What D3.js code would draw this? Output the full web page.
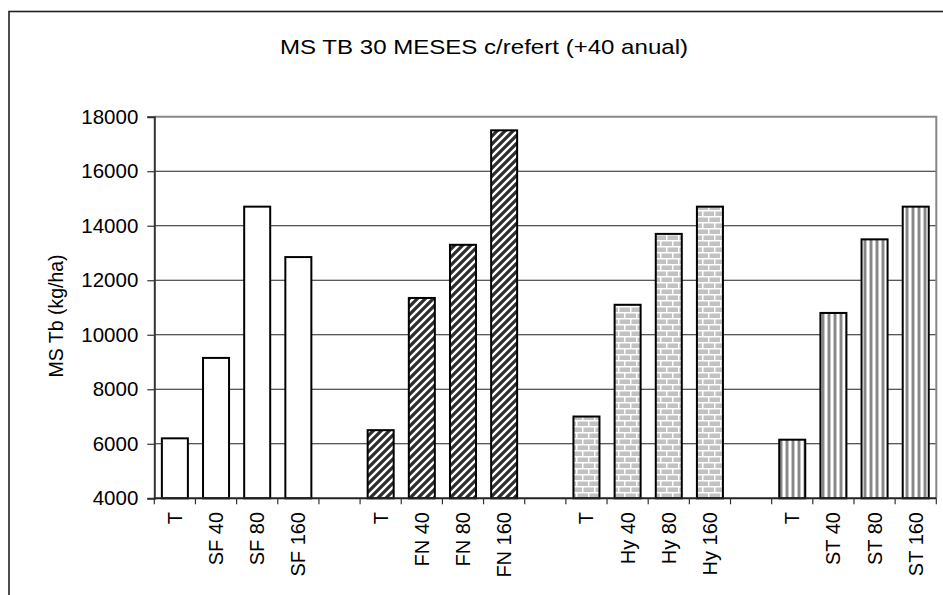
<!DOCTYPE html>
<html>
<head>
<meta charset="utf-8">
<script src="https://cdn.jsdelivr.net/npm/d3@7"></script>
<style>
  html, body { margin: 0; padding: 0; background: #fff; }
  svg { display: block; font-family: "Liberation Sans", Arial, sans-serif; }
</style>
</head>
<body>
<svg id="chart" width="943" height="595"></svg>
<script>
// Dry matter yield (kg/ha) per treatment group
const groups = ["SF", "FN", "Hy", "ST"];
const doses = ["T", "40", "80", "160"];
const sfValues = [6200, 9150, 14700, 12850];
const fnValues = [6500, 11350, 13300, 17500];
const hyValues = [7000, 11100, 13700, 14700];
const stValues = [6150, 10800, 13500, 14700];
const yTicks = [4000, 6000, 8000, 10000, 12000, 14000, 16000, 18000];
const titleText = "MS TB 30 MESES c/refert (+40 anual)";
const yAxisTitle = "MS Tb (kg/ha)";

const seriesValues = { SF: sfValues, FN: fnValues, Hy: hyValues, ST: stValues };

// Category slots: four per group, an empty slot between groups
const slots = [];
groups.forEach((g, gi) => {
  doses.forEach((d, di) => {
    slots.push({
      key: g + "-" + d,
      group: g,
      label: d === "T" ? "T" : g + " " + d,
      value: seriesValues[g][di]
    });
  });
  if (gi < groups.length - 1) slots.push({ key: "gap-" + gi, group: null, label: "", value: null });
});

const svg = d3.select("#chart");
const defs = svg.append("defs");

// Fill patterns per group
const diag = defs.append("pattern").attr("id", "pat-FN")
  .attr("patternUnits", "userSpaceOnUse").attr("width", 8).attr("height", 8);
diag.append("rect").attr("width", 8).attr("height", 8).attr("fill", "#2e2e2e");
diag.append("path").attr("d", "M-1,9 L9,-1 M-5,5 L5,-5 M3,13 L13,3")
  .attr("stroke", "#fff").attr("stroke-width", 2.4);

const brick = defs.append("pattern").attr("id", "pat-Hy")
  .attr("patternUnits", "userSpaceOnUse").attr("width", 12).attr("height", 12);
brick.append("rect").attr("width", 12).attr("height", 12).attr("fill", "#c2c2c2");
brick.append("path")
  .attr("d", "M0,0.75 H12 M0,6.75 H12 M0.75,0 V6 M6.75,6 V12")
  .attr("stroke", "#fff").attr("stroke-width", 1.5);

const vstripe = defs.append("pattern").attr("id", "pat-ST")
  .attr("patternUnits", "userSpaceOnUse").attr("width", 6).attr("height", 6);
vstripe.append("rect").attr("width", 6).attr("height", 6).attr("fill", "#fff");
vstripe.append("rect").attr("x", 0).attr("width", 2).attr("height", 6).attr("fill", "#878787");
vstripe.append("rect").attr("x", 2).attr("width", 1).attr("height", 6).attr("fill", "#c8c8c8");
vstripe.append("rect").attr("x", 5).attr("width", 1).attr("height", 6).attr("fill", "#c8c8c8");

const fills = { SF: "#fff", FN: "url(#pat-FN)", Hy: "url(#pat-Hy)", ST: "url(#pat-ST)" };

// Outer chart frame
svg.append("rect").attr("x", 9).attr("y", 11.5).attr("width", 960).attr("height", 620)
  .attr("fill", "none").attr("stroke", "#222").attr("stroke-width", 1.6);

const plot = { left: 154.3, right: 936.3, top: 116.7, bottom: 498.3 };

const x = d3.scaleBand()
  .domain(slots.map(d => d.key))
  .range([plot.left, plot.right])
  .paddingInner(0.368)
  .paddingOuter(0.184);

const y = d3.scaleLinear().domain([4000, 18000]).range([plot.bottom, plot.top]);

// Gridlines
svg.append("g").selectAll("line").data(yTicks.filter(v => v > 4000 && v < 18000)).join("line")
  .attr("x1", plot.left).attr("x2", plot.right)
  .attr("y1", d => y(d)).attr("y2", d => y(d))
  .attr("stroke", "#222").attr("stroke-width", 1.1);

// Plot area border (top and right)
svg.append("path")
  .attr("d", `M${plot.left},${plot.top} H${plot.right} V${plot.bottom}`)
  .attr("fill", "none").attr("stroke", "#888").attr("stroke-width", 2);

// Bars
svg.append("g").selectAll("rect").data(slots.filter(d => d.value != null)).join("rect")
  .attr("x", d => x(d.key))
  .attr("width", x.bandwidth())
  .attr("y", d => y(d.value))
  .attr("height", d => y(4000) - y(d.value))
  .attr("fill", d => fills[d.group])
  .attr("stroke", "#000").attr("stroke-width", 2);

// Y axis
const yAxis = d3.axisLeft(y).tickValues(yTicks).tickSize(7).tickPadding(9).tickFormat(d3.format("d"));
const gy = svg.append("g").attr("transform", `translate(${plot.left},0)`).call(yAxis);
gy.select(".domain").attr("stroke", "#333").attr("stroke-width", 2);
gy.selectAll(".tick line").attr("stroke", "#333").attr("stroke-width", 1.2);
gy.selectAll(".tick text").attr("font-size", 20.5).attr("fill", "#000")
  .attr("font-family", "Liberation Sans, Arial, sans-serif");

// X axis: ticks at slot boundaries, labels rotated
const step = x.step();
const boundaries = d3.range(slots.length + 1).map(i => plot.left + i * step);
const gx = svg.append("g");
gx.append("line").attr("x1", plot.left).attr("x2", plot.right)
  .attr("y1", plot.bottom).attr("y2", plot.bottom)
  .attr("stroke", "#222").attr("stroke-width", 2);
gx.selectAll("line.tk").data(boundaries).join("line").attr("class", "tk")
  .attr("x1", d => d).attr("x2", d => d)
  .attr("y1", plot.bottom).attr("y2", plot.bottom + 6)
  .attr("stroke", "#333").attr("stroke-width", 1.2);
gx.selectAll("text").data(slots.filter(d => d.label)).join("text")
  .attr("transform", d => `translate(${x(d.key) + x.bandwidth() / 2},512) rotate(-90)`)
  .attr("text-anchor", "end")
  .attr("dy", "0.35em")
  .attr("font-size", 20)
  .text(d => d.label);

// Titles
svg.append("text").attr("x", 484).attr("y", 54)
  .attr("text-anchor", "middle").attr("font-size", 21)
  .attr("textLength", 408).attr("lengthAdjust", "spacingAndGlyphs")
  .text(titleText);

svg.append("text")
  .attr("transform", `translate(56,316) rotate(-90)`)
  .attr("text-anchor", "middle").attr("dy", "0.35em").attr("font-size", 19.5)
  .text(yAxisTitle);
</script>
</body>
</html>
